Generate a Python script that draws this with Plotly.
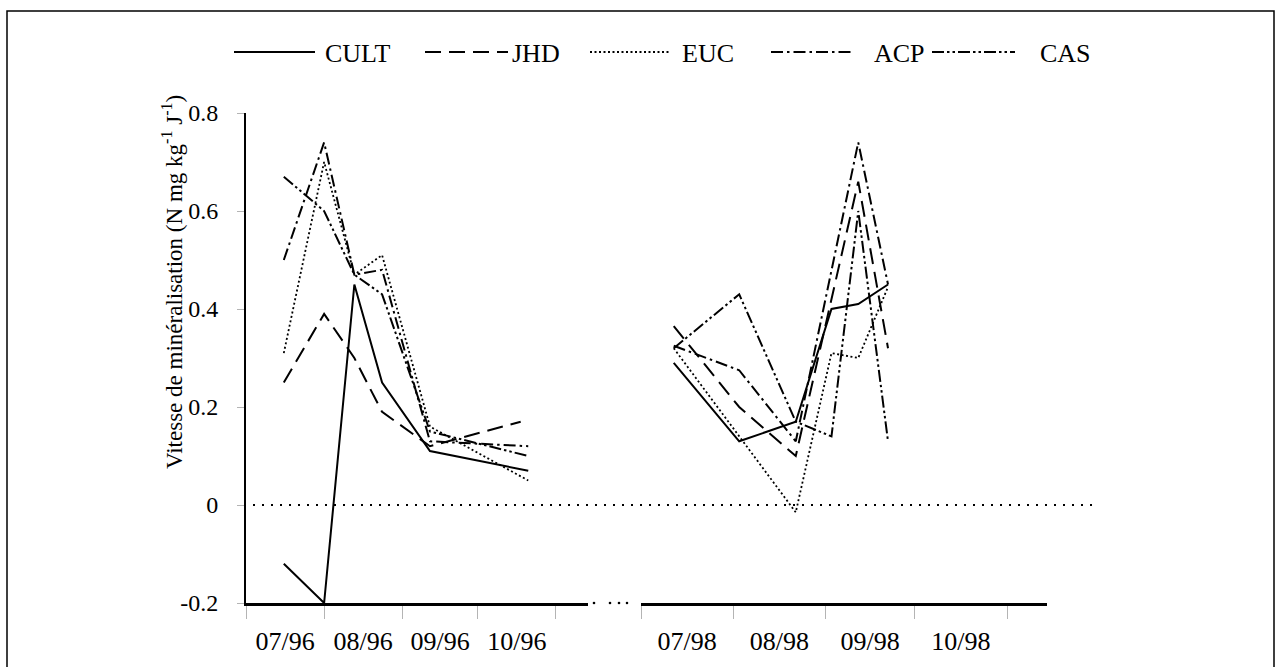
import plotly.graph_objects as go

# ---- data -------------------------------------------------------------
series_names = ["CULT", "JHD", "EUC", "ACP", "CAS"]

# 1996 campaign
cult_96_dates = ["1996-07-16", "1996-08-01", "1996-08-13", "1996-08-24", "1996-09-12", "1996-10-21"]
cult_96 = [-0.12, -0.20, 0.45, 0.25, 0.11, 0.07]
jhd_96_dates = ["1996-07-16", "1996-08-01", "1996-08-13", "1996-08-24", "1996-09-12", "1996-10-18"]
jhd_96 = [0.25, 0.39, 0.30, 0.19, 0.12, 0.17]
euc_96_dates = ["1996-07-16", "1996-08-01", "1996-08-13", "1996-08-24", "1996-09-12", "1996-10-21"]
euc_96 = [0.31, 0.70, 0.47, 0.51, 0.16, 0.05]
acp_96_dates = ["1996-07-16", "1996-08-01", "1996-08-13", "1996-08-24", "1996-09-12", "1996-10-21"]
acp_96 = [0.50, 0.74, 0.47, 0.48, 0.13, 0.12]
cas_96_dates = ["1996-07-16", "1996-08-01", "1996-08-13", "1996-08-24", "1996-09-12", "1996-10-21"]
cas_96 = [0.67, 0.60, 0.47, 0.43, 0.15, 0.10]

# 1998 campaign
cult_98_dates = ["1998-07-12", "1998-08-03", "1998-08-22", "1998-09-03", "1998-09-12", "1998-09-22"]
cult_98 = [0.29, 0.13, 0.17, 0.40, 0.41, 0.45]
jhd_98_dates = ["1998-07-12", "1998-08-03", "1998-08-22", "1998-09-12", "1998-09-22"]
jhd_98 = [0.365, 0.20, 0.10, 0.66, 0.32]
euc_98_dates = ["1998-07-12", "1998-08-22", "1998-09-03", "1998-09-12", "1998-09-22"]
euc_98 = [0.32, -0.015, 0.31, 0.30, 0.445]
acp_98_dates = ["1998-07-12", "1998-08-03", "1998-08-22", "1998-09-12", "1998-09-22"]
acp_98 = [0.325, 0.275, 0.13, 0.74, 0.45]
cas_98_dates = ["1998-07-12", "1998-08-03", "1998-08-22", "1998-09-03", "1998-09-12", "1998-09-22"]
cas_98 = [0.32, 0.43, 0.17, 0.14, 0.60, 0.13]

y_ticks = [-0.2, 0, 0.2, 0.4, 0.6, 0.8]
y_tick_text = ["-0.2", "0", "0.2", "0.4", "0.6", "0.8"]

# ---- styling ----------------------------------------------------------
FONT = "Liberation Serif"
dash_styles = {
    "CULT": "solid",
    "JHD": "16px,8px",
    "EUC": "2px,2.5px",
    "ACP": "12px,4px,2.5px,4px",
    "CAS": "12px,3px,2.5px,3px,2.5px,3px",
}
widths = {"CULT": 2, "JHD": 2, "EUC": 1.8, "ACP": 2, "CAS": 2}

panels = {
    "x": {
        "CULT": (cult_96_dates, cult_96),
        "JHD": (jhd_96_dates, jhd_96),
        "EUC": (euc_96_dates, euc_96),
        "ACP": (acp_96_dates, acp_96),
        "CAS": (cas_96_dates, cas_96),
    },
    "x2": {
        "CULT": (cult_98_dates, cult_98),
        "JHD": (jhd_98_dates, jhd_98),
        "EUC": (euc_98_dates, euc_98),
        "ACP": (acp_98_dates, acp_98),
        "CAS": (cas_98_dates, cas_98),
    },
}

fig = go.Figure()
for xref, group in panels.items():
    for name in series_names:
        xs, ys = group[name]
        fig.add_trace(go.Scatter(
            x=xs, y=ys, mode="lines", name=name, xaxis=xref, yaxis="y",
            showlegend=False, hoverinfo="skip",
            line=dict(color="black", width=widths[name], dash=dash_styles[name]),
        ))

# ---- layout geometry (pixels of the 1282 x 667 canvas) ----------------
W, H = 1282, 667
L, R, T, B = 246, 1047, 113, 603      # plot area
pw, ph = R - L, B - T


def px(xpix):
    return (xpix - L) / pw


def py(ypix):
    return (B - ypix) / ph


tick_font = dict(family=FONT, size=26, color="black")
xaxis_common = dict(
    type="date", dtick="M1", tickformat="%m/%y", ticklabelmode="period",
    showline=True, linecolor="black", linewidth=2.5,
    ticks="outside", ticklen=13, tickwidth=1, tickcolor="#b4b4b4",
    showgrid=False, zeroline=False, tickfont=tick_font, anchor="y",
)

fig.update_layout(
    width=W, height=H,
    margin=dict(l=L, r=W - R, t=T, b=H - B, pad=0),
    paper_bgcolor="white", plot_bgcolor="white",
    showlegend=False,
    xaxis=dict(xaxis_common, domain=[0, px(588)], tick0="1996-07-01",
               range=["1996-07-01", "1996-11-13 17:00"]),
    xaxis2=dict(xaxis_common, domain=[px(641), 1], tick0="1998-07-01",
                range=["1998-07-01", "1998-11-14 10:00"]),
    yaxis=dict(
        range=[-0.2, 0.8], tickvals=y_ticks, ticktext=y_tick_text,
        showline=True, linecolor="black", linewidth=2,
        ticks="outside", ticklen=7, tickwidth=1, tickcolor="#b4b4b4",
        showgrid=False, zeroline=False, ticklabelstandoff=14,
        tickfont=dict(family=FONT, size=24, color="black"),
    ),
)

shapes = []
# outer frame
shapes.append(dict(type="rect", xref="paper", yref="paper",
                   x0=px(7), x1=px(1274), y0=py(690), y1=py(11),
                   line=dict(color="black", width=1.5), fillcolor="rgba(0,0,0,0)",
                   layer="above"))
# zero reference line
shapes.append(dict(type="line", xref="paper", yref="y",
                   x0=px(253), x1=px(1093), y0=0, y1=0,
                   line=dict(color="black", width=2, dash="2px,7px")))
# axis break dots
for xd in [594, 610, 619, 627]:
    shapes.append(dict(type="circle", xref="paper", yref="paper",
                       x0=px(xd - 1.3), x1=px(xd + 1.3),
                       y0=py(B + 1.3), y1=py(B - 1.3),
                       fillcolor="black", line=dict(width=0)))

# legend drawn along the top
legend_y = 52
legend_items = [
    ("CULT", 234, 315, 323),
    ("JHD", 425, 508, 510),
    ("EUC", 590, 671, 680),
    ("ACP", 771, 854, 872),
    ("CAS", 932, 1015, 1038),
]
annotations = []
for name, x0, x1, xt in legend_items:
    shapes.append(dict(type="line", xref="paper", yref="paper",
                       x0=px(x0), x1=px(x1), y0=py(legend_y), y1=py(legend_y),
                       line=dict(color="black", width=widths[name], dash=dash_styles[name])))
    annotations.append(dict(xref="paper", yref="paper", x=px(xt), y=py(legend_y + 1),
                            text=name, showarrow=False, xanchor="left", yanchor="middle",
                            font=dict(family=FONT, size=26, color="black")))

# y-axis title
annotations.append(dict(
    xref="paper", yref="paper", x=px(172), y=py(282),
    text="Vitesse de minéralisation (N mg kg<sup>-1</sup> J<sup>-1</sup>)",
    textangle=-90, showarrow=False, xanchor="center", yanchor="middle",
    font=dict(family=FONT, size=23, color="black"),
))

fig.update_layout(shapes=shapes, annotations=annotations)

fig.write_html("out.html")
